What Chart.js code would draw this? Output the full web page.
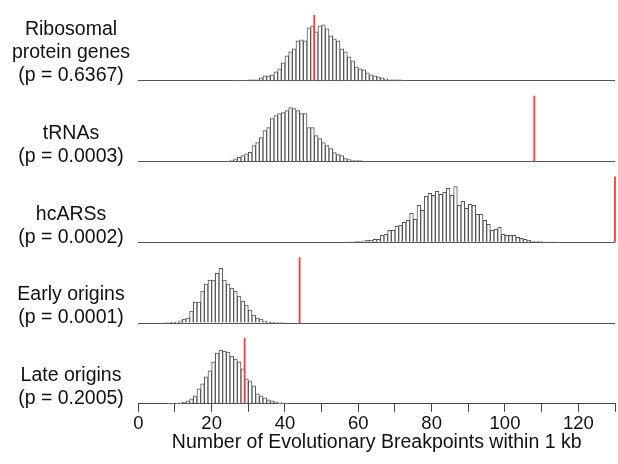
<!DOCTYPE html>
<html>
<head>
<meta charset="utf-8">
<script src="https://cdn.jsdelivr.net/npm/chart.js@4.4.0/dist/chart.umd.min.js"></script>
<style>
  html, body { margin: 0; padding: 0; background: #fff; }
  #wrap { width: 618px; height: 464px; }
</style>
</head>
<body>
<div id="wrap"><canvas id="c" width="618" height="464"></canvas></div>
<script>
/* Permutation histograms of breakpoint counts, one panel per feature class.
 * Red line = observed count. Bins are 1 kb-count wide, firstBin = left edge of first bin. */
var panelLabels = [
  ['Ribosomal', 'protein genes', '(p = 0.6367)'],
  ['tRNAs', '(p = 0.0003)'],
  ['hcARSs', '(p = 0.0002)'],
  ['Early origins', '(p = 0.0001)'],
  ['Late origins', '(p = 0.2005)']
];
var observed = [48, 108, 130, 44, 29];
var firstBin = [25, 24, 57, 7, 8];

var ribosomal = [0.5, 0.5, 0.5, 0.5, 0.5, 1, 1, 1, 3, 5, 5, 6, 9, 12, 18, 25, 29, 32, 40, 41, 40,
  53, 55, 49, 55, 56, 52, 45, 42, 40, 32, 29, 24, 20, 14, 12, 11, 8, 6, 5, 4, 3, 2, 1, 1, 1, 1, 0.5];
var trna = [0.5, 1.5, 2.7, 4.3, 6, 7.7, 9.3, 16, 19, 24, 31, 34, 43, 46, 48, 49, 51, 54, 53, 51,
  48, 48, 34, 34, 26, 23, 19, 16, 13, 9, 7, 6, 3, 2, 1, 1, 1, 0.5, 0.5];
var hcars = [0.5, 0.5, 1, 1, 1.5, 2, 2, 3, 3, 7, 8, 12, 12, 16, 17, 20, 22, 29, 23, 37,
  32, 46, 49, 47, 51, 48, 50, 54, 47, 56, 37, 41, 34, 38, 37, 28, 28, 22, 18, 12,
  13, 15, 8, 7, 7, 7, 5, 4, 3, 2, 1, 1, 1, 0.5, 0.5, 0.5, 0.5];
var early = [0.5, 0.5, 1, 1, 2.3, 4, 5, 12, 21, 21, 32, 39, 43, 43, 50, 55, 43, 39, 35, 32,
  27, 22, 18, 13, 8, 5, 4, 2, 1, 1, 0.5, 0.5, 0.5];
var late = [0.5, 0.5, 0.5, 1, 1.7, 3, 5, 8, 15, 20, 27, 33, 42, 51, 54, 53, 52, 48, 45, 42,
  35, 25, 23, 18, 10, 8, 6, 4, 3, 2, 1, 1, 0.5];

var xTicks = [0, 20, 40, 60, 80, 100, 120];
var xTitle = 'Number of Evolutionary Breakpoints within 1 kb';

var series = [ribosomal, trna, hcars, early, late];
var FONT = '"Liberation Sans", Arial, sans-serif';
var PANEL_MAX = 81;   // per-panel y range
var MARK_H = 66;      // height of the observed-value line

function binPoints(start, counts) {
  return counts.map(function (c, i) { return { x: start + i + 0.5, y: c }; });
}

var scales = {
  x: {
    type: 'linear', position: 'bottom', min: 0, max: 130, offset: false,
    border: { display: true, color: '#444', width: 1 },
    grid: { offset: false, drawOnChartArea: false, drawTicks: true, tickLength: 8, color: '#444' },
    ticks: {
      stepSize: 10, autoSkip: false, maxRotation: 0, padding: 3, color: '#111',
      font: { family: FONT, size: 18.5, lineHeight: 1 },
      callback: function (v) { return xTicks.indexOf(v) >= 0 ? String(v) : ''; }
    },
    title: {
      display: true, text: xTitle, color: '#111',
      font: { family: FONT, size: 19.5, lineHeight: 0.65 }, padding: { top: 0, bottom: 0 }
    }
  }
};

// stacked left axes are laid out bottom-up in definition order, so add them last panel first
for (var k = series.length - 1; k >= 0; k--) {
  scales['y' + k] = {
    type: 'linear', position: 'left', stack: 'panels', stackWeight: 1, min: 0, max: PANEL_MAX,
    border: { display: false },
    grid: {
      drawTicks: false,
      color: function (c) { return c.tick && c.tick.value === 0 ? '#555' : 'rgba(0,0,0,0)'; }
    },
    ticks: { display: false, stepSize: PANEL_MAX }
  };
}

var datasets = [];
series.forEach(function (counts, i) {
  var yid = 'y' + i;
  datasets.push({
    type: 'bar', xAxisID: 'x', yAxisID: yid, data: binPoints(firstBin[i], counts),
    grouped: false, barPercentage: 1, categoryPercentage: 1,
    backgroundColor: '#fff', borderColor: '#555', borderWidth: 1, order: 1
  });
  datasets.push({
    type: 'line', xAxisID: 'x', yAxisID: yid,
    data: [{ x: observed[i], y: 0 }, { x: observed[i], y: MARK_H }],
    borderColor: '#ff3b3b', borderWidth: 1.8, pointRadius: 0, clip: false, order: 0
  });
});

/* left-hand panel captions, anchored to each panel's baseline */
var panelText = {
  id: 'panelText',
  afterDraw: function (chart) {
    var ctx = chart.ctx;
    ctx.save();
    ctx.font = '19.5px ' + FONT;
    ctx.fillStyle = '#111';
    ctx.textAlign = 'center';
    ctx.textBaseline = 'middle';
    panelLabels.forEach(function (lines, i) {
      var base = chart.scales['y' + i].getPixelForValue(0);
      lines.forEach(function (t, j) {
        ctx.fillText(t, 71, base - 5 - (lines.length - 1 - j) * 23);
      });
    });
    ctx.restore();
  }
};

new Chart(document.getElementById('c').getContext('2d'), {
  type: 'bar',
  data: { datasets: datasets },
  options: {
    responsive: false, animation: false,
    layout: { padding: { left: 138.3, right: 2.3, top: 0, bottom: 15 } },
    plugins: { legend: { display: false }, tooltip: { enabled: false } },
    scales: scales
  },
  plugins: [panelText]
});
</script>
</body>
</html>
